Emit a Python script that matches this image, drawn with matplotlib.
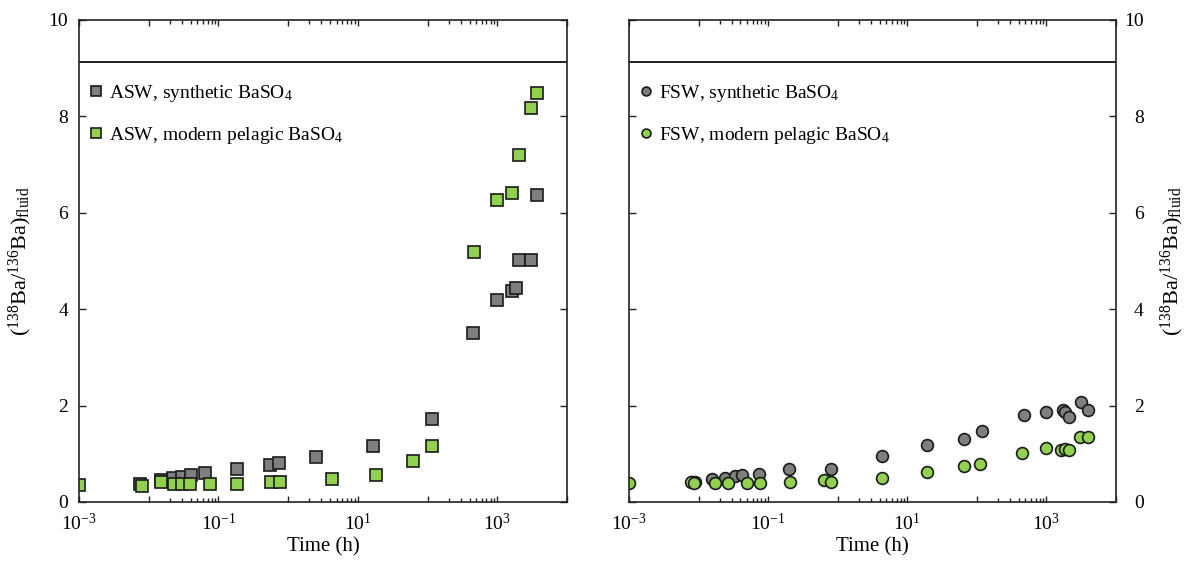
import numpy as np
import matplotlib
matplotlib.use('Agg')
import matplotlib.pyplot as plt
from matplotlib.ticker import FixedLocator, FuncFormatter

plt.rcParams['font.family'] = ['Liberation Serif', 'DejaVu Serif']
plt.rcParams['mathtext.fontset'] = 'custom'
plt.rcParams['mathtext.rm'] = 'Liberation Serif'
plt.rcParams['mathtext.it'] = 'Liberation Serif:italic'
plt.rcParams['mathtext.bf'] = 'Liberation Serif:bold'

# ASW panel (squares)
asw_syn_t = [0.0075, 0.0149, 0.0225, 0.030, 0.040, 0.064, 0.183, 0.55, 0.74, 2.49,
             16.4, 115, 446, 985, 1630, 1840, 2030, 3080, 3760]
asw_syn_r = [0.37, 0.46, 0.49, 0.52, 0.57, 0.61, 0.68, 0.77, 0.80, 0.93,
             1.17, 1.72, 3.50, 4.19, 4.38, 4.45, 5.03, 5.03, 6.37]
asw_pel_t = [0.001, 0.0079, 0.0149, 0.023, 0.0297, 0.0387, 0.0757, 0.187, 0.569, 0.758,
             4.31, 18.2, 61.4, 116, 465, 994, 1650, 2030, 3055, 3760]
asw_pel_r = [0.35, 0.33, 0.41, 0.37, 0.37, 0.37, 0.37, 0.37, 0.41, 0.41,
             0.48, 0.57, 0.86, 1.16, 5.19, 6.27, 6.41, 7.20, 8.18, 8.48]

# FSW panel (circles)
fsw_syn_t = [0.0081, 0.0089, 0.0157, 0.0237, 0.0334, 0.0427, 0.0728, 0.201, 0.80, 4.27,
             19.4, 64.7, 117, 470, 988, 1725, 1855, 2100, 3150, 3940]
fsw_syn_r = [0.42, 0.42, 0.47, 0.50, 0.53, 0.55, 0.59, 0.69, 0.69, 0.95,
             1.18, 1.31, 1.47, 1.81, 1.87, 1.90, 1.87, 1.77, 2.07, 1.90]
fsw_pel_t = [0.001, 0.0077, 0.0086, 0.0174, 0.0267, 0.0499, 0.0772, 0.206, 0.63, 0.80,
             4.27, 19.4, 64.7, 111, 449, 980, 1640, 1830, 2080, 3075, 3900]
fsw_pel_r = [0.39, 0.42, 0.39, 0.39, 0.39, 0.39, 0.39, 0.42, 0.46, 0.42,
             0.49, 0.62, 0.75, 0.78, 1.01, 1.11, 1.08, 1.10, 1.08, 1.34, 1.34]

gray = '#7f7f7f'
green = '#92d050'
edge = '#1a1a1a'
ylab = r'($^{138}$Ba/$^{136}$Ba)$_{\mathrm{fluid}}$'

fig = plt.figure(figsize=(11.85, 5.63), dpi=100)
ax1 = fig.add_axes([79 / 1185, 61 / 563, 488 / 1185, 482 / 563])
ax2 = fig.add_axes([629 / 1185, 61 / 563, 487 / 1185, 482 / 563])


def label_decade(v, pos):
    e = int(round(np.log10(v)))
    if e % 2 != 0:
        return r'$10^{%d}$' % e
    return ''


def style(ax):
    ax.set_xscale('log')
    ax.set_xlim(1e-3, 1e4)
    ax.set_ylim(0, 10)
    ax.xaxis.set_major_locator(FixedLocator([10.0 ** e for e in range(-3, 5)]))
    ax.xaxis.set_major_formatter(FuncFormatter(label_decade))
    # minor ticks only drawn in every other decade (as in the original)
    minors = [k * 10.0 ** e for e in (-2, 0, 2) for k in range(2, 10)]
    ax.xaxis.set_minor_locator(FixedLocator(minors))
    ax.xaxis.set_minor_formatter(FuncFormatter(lambda v, p: ''))
    ax.set_yticks([0, 2, 4, 6, 8, 10])
    ax.tick_params(which='major', direction='in', top=True, right=True,
                   length=4, width=1, labelsize=14, pad=8, color='#222222')
    ax.tick_params(which='minor', direction='in', top=True, length=3, width=1, color='#222222')
    ax.tick_params(axis='y', which='major', length=5)
    for s in ax.spines.values():
        s.set_linewidth(1.2)
        s.set_color('#222222')
    ax.axhline(9.13, color='#222222', lw=1.4)
    ax.set_xlabel('Time (h)', fontsize=15, labelpad=2)


style(ax1)
style(ax2)
ax1.set_ylabel(ylab, fontsize=16, labelpad=10)

ax1.plot(asw_syn_t, asw_syn_r, 's', ms=8, mfc=gray, mec=edge, mew=1.2,
         label=r'ASW, synthetic BaSO$_4$')
ax1.plot(asw_pel_t, asw_pel_r, 's', ms=8, mfc=green, mec=edge, mew=1.2,
         label=r'ASW, modern pelagic BaSO$_4$')

ax2.plot(fsw_syn_t, fsw_syn_r, 'o', ms=8.5, mfc=gray, mec=edge, mew=1.2,
         label=r'FSW, synthetic BaSO$_4$')
ax2.plot(fsw_pel_t, fsw_pel_r, 'o', ms=8.5, mfc=green, mec=edge, mew=1.2,
         label=r'FSW, modern pelagic BaSO$_4$')

ax2.yaxis.tick_right()
ax2.tick_params(axis='y', which='both', left=True, right=True, pad=20)
for t in ax2.yaxis.get_major_ticks():
    t.label2.set_horizontalalignment('right')
ax2.yaxis.set_label_position('right')
ax2.set_ylabel(ylab, fontsize=16, rotation=90, labelpad=11)

ax1.legend(loc='upper left', bbox_to_anchor=(0.018, 0.87), frameon=False,
           fontsize=14, handlelength=0.8, handletextpad=0.3, borderpad=0,
           borderaxespad=0, labelspacing=1.1, markerscale=0.85)
ax2.legend(loc='upper left', bbox_to_anchor=(0.018, 0.87), frameon=False,
           fontsize=14, handlelength=0.8, handletextpad=0.3, borderpad=0,
           borderaxespad=0, labelspacing=1.1, markerscale=0.75)

fig.savefig('out.png', dpi=100)
